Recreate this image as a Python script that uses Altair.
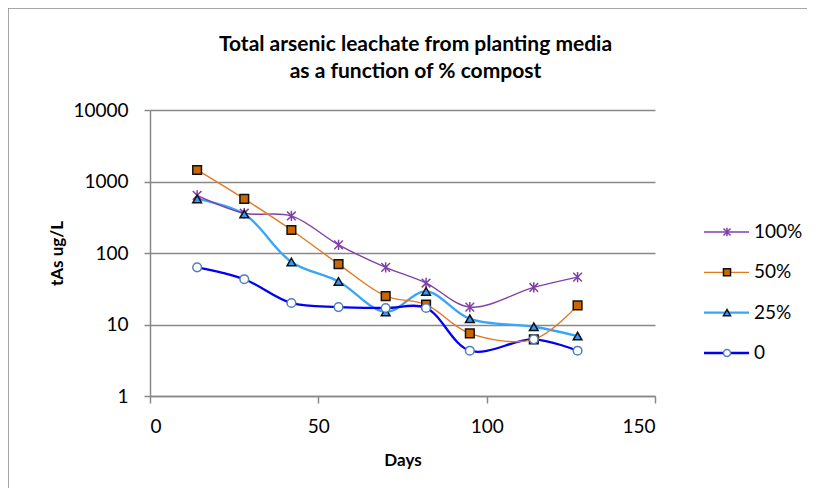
import altair as alt
import pandas as pd

days = [14, 28, 42, 56, 70, 82, 95, 114, 127]
series_names = ["100%", "50%", "25%", "0"]
s100 = [640, 360, 330, 130, 63, 38, 17.5, 33, 46]
s50 = [1450, 570, 210, 70, 25, 19, 7.5, 6.2, 18.5]
s25 = [570, 350, 75, 40, 15, 29, 12, 9.3, 6.9]
s0 = [63, 43, 20, 17.5, 17, 17, 4.3, 6.2, 4.3]
legend_rank = [0, 1, 2, 3]
thin_series = ["100%", "50%"]
title_lines = ["Total arsenic leachate from planting media", "as a function of % compost"]

line_colors = ["#8040A8", "#E3781E", "#36A6FA", "#0000F5"]
marker_fill = ["#8040A8", "#CC6600", "#3399FF", "#FFFFFF"]
marker_stroke = ["#8040A8", "#111111", "#111111", "#4F81BD"]
star = "M-1,-1L1,1M-1,1L1,-1M0,-1.2L0,1.2"
marker_shapes = [star, "square", "triangle-up", "circle"]

rows = []
for name, vals in zip(series_names, [s100, s50, s25, s0]):
    for d, v in zip(days, vals):
        rows.append({"Days": d, "value": v, "series": name})
df = pd.DataFrame(rows)

FONT = "Lato"
W, H = 505, 286
PAD_L, PAD_T = 142, 102

color_scale = alt.Scale(domain=series_names, range=line_colors)
fill_scale = alt.Scale(domain=series_names, range=marker_fill)
stroke_scale = alt.Scale(domain=series_names, range=marker_stroke)
shape_scale = alt.Scale(domain=series_names, range=marker_shapes)

x_enc = alt.X("Days:Q", scale=alt.Scale(domain=[0, 150], nice=False),
              axis=alt.Axis(values=[0, 50, 100, 150], grid=False, title="Days",
                            titleX=W / 2, titleY=64,
                            titleBaseline="middle", titleAlign="center",
                            tickSize=7, labelPadding=14))
y_enc = alt.Y("value:Q", scale=alt.Scale(type="log", domain=[1, 10000], nice=False),
              axis=alt.Axis(values=[1, 10, 100, 1000, 10000], format="d",
                            title="tAs ug/L", titleX=-93, titleY=H / 2,
                            titleAngle=270, titleBaseline="middle", titleAlign="center",
                            labelPadding=16, tickSize=6))

thin_filter = {"field": "series", "oneOf": thin_series}
thick_filter = {"not": thin_filter}

base = alt.Chart(df)
lines_thick = base.mark_line(interpolate="catmull-rom", strokeWidth=2.3).encode(
    x=x_enc, y=y_enc,
    color=alt.Color("series:N", scale=color_scale, legend=None),
).transform_filter(thick_filter)
lines_thin = base.mark_line(interpolate="catmull-rom", strokeWidth=1.4).encode(
    x="Days:Q", y="value:Q",
    color=alt.Color("series:N", scale=color_scale, legend=None),
).transform_filter(thin_filter)
points = base.mark_point(filled=False, size=75, strokeWidth=1.5, opacity=1).encode(
    x="Days:Q", y="value:Q",
    shape=alt.Shape("series:N", scale=shape_scale, legend=None),
    fill=alt.Fill("series:N", scale=fill_scale, legend=None),
    stroke=alt.Stroke("series:N", scale=stroke_scale, legend=None),
)
data_layer = alt.layer(lines_thick, lines_thin, points)

leg_df = pd.DataFrame({"series": series_names, "rank": legend_rank})
leg_y = alt.Y("rank:Q", scale=alt.Scale(domain=[0, 3], range=[122, 243], nice=False, zero=False), axis=None)
leg_base = alt.Chart(leg_df)
leg_rule_thin = leg_base.mark_rule(strokeWidth=1.4).encode(
    y=leg_y, x=alt.value(554), x2=alt.value(599),
    color=alt.Color("series:N", scale=color_scale, legend=None),
).transform_filter(thin_filter)
leg_rule_thick = leg_base.mark_rule(strokeWidth=2.3).encode(
    y="rank:Q", x=alt.value(554), x2=alt.value(599),
    color=alt.Color("series:N", scale=color_scale, legend=None),
).transform_filter(thick_filter)
leg_pt = leg_base.mark_point(size=50, strokeWidth=1.5, opacity=1).encode(
    y="rank:Q", x=alt.value(577),
    shape=alt.Shape("series:N", scale=shape_scale, legend=None),
    fill=alt.Fill("series:N", scale=fill_scale, legend=None),
    stroke=alt.Stroke("series:N", scale=stroke_scale, legend=None),
)
leg_txt = leg_base.mark_text(align="left", baseline="middle", font=FONT,
                             fontSize=19, color="#000000").encode(
    y="rank:Q", x=alt.value(604), text="series:N",
)
one = alt.Chart(pd.DataFrame({"a": [0]}))
border = one.mark_rule(color="#888888", strokeWidth=1.5)
border_l = border.encode(x=alt.value(-PAD_L), y=alt.value(-PAD_T), y2=alt.value(H + 120))
border_t = border.encode(x=alt.value(-PAD_L), x2=alt.value(W + 200), y=alt.value(-PAD_T))
title_marks = [
    one.mark_text(font=FONT, fontSize=21, fontWeight="bold", color="#000000",
                  align="center", baseline="middle").encode(
        x=alt.value(W / 2 + 13), y=alt.value(yv), text=alt.value(t))
    for t, yv in zip(title_lines, [-65, -38])
]
legend_layer = alt.layer(leg_rule_thin, leg_rule_thick, leg_pt, leg_txt,
                         border_l, border_t, *title_marks)

chart = alt.layer(data_layer, legend_layer).resolve_scale(
    y="independent", color="independent", fill="independent", stroke="independent",
    shape="independent",
).properties(
    width=W, height=H,
    background="white",
    autosize=alt.AutoSizeParams(type="none"),
    padding={"left": PAD_L, "top": PAD_T, "right": 807 - 150 - W, "bottom": 488 - 110 - H},
).configure_view(stroke=None).configure_axis(
    labelFont=FONT, labelFontSize=19, labelColor="#000000",
    titleFont=FONT, titleFontSize=17, titleFontWeight="bold", titleColor="#000000",
    domainColor="#888888", domainWidth=1.5, tickColor="#888888", tickWidth=1.5,
    gridColor="#888888", gridWidth=1.5, gridOpacity=1,
)

chart.save("out.html", embed_options={"renderer": "svg", "actions": False})
